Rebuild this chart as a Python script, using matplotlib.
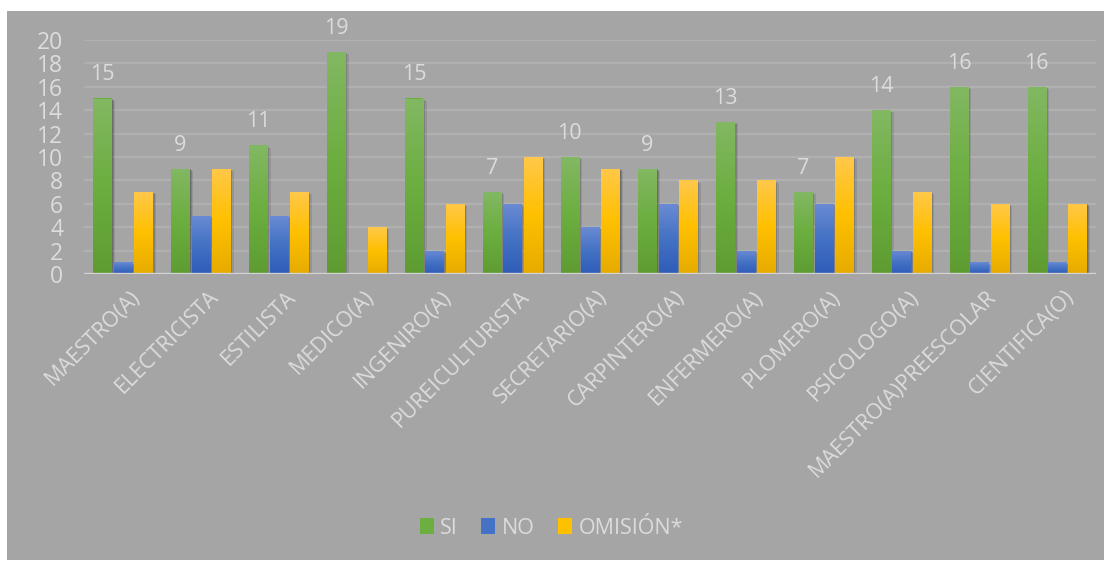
import numpy as np
import matplotlib
matplotlib.use("Agg")
import matplotlib.pyplot as plt
from matplotlib.patches import Rectangle
from matplotlib.colors import LinearSegmentedColormap
import matplotlib.patheffects as pe
import matplotlib.transforms as mtransforms

plt.rcParams['font.family'] = ['Open Sans', 'DejaVu Sans']

categories = ["MAESTRO(A)", "ELECTRICISTA", "ESTILISTA", "MEDICO(A)", "INGENIRO(A)",
              "PUREICULTURISTA", "SECRETARIO(A)", "CARPINTERO(A)", "ENFERMERO(A)",
              "PLOMERO(A)", "PSICOLOGO(A)", "MAESTRO(A)PREESCOLAR", "CIENTIFICA(O)"]
si = [15, 9, 11, 19, 15, 7, 10, 9, 13, 7, 14, 16, 16]
no = [1, 5, 5, 0, 2, 6, 4, 6, 2, 6, 2, 1, 1]
omision = [7, 9, 7, 4, 6, 10, 9, 8, 8, 10, 7, 6, 6]
series_names = ["SI", "NO", "OMISIÓN*"]
y_ticks = [0, 2, 4, 6, 8, 10, 12, 14, 16, 18, 20]

BG = "#a5a5a5"
TXT = "#dcdcdc"
GRID = "#b0b0b0"

# top, middle, bottom colours of each series' gradient fill
gradients = [
    ["#82b863", "#6cae3f", "#5e9c32"],
    ["#6b8bd4", "#4472c4", "#2f5cb8"],
    ["#ffc84a", "#ffc000", "#e6ab00"],
]

W, H = 1114, 562
fig = plt.figure(figsize=(W / 100, H / 100), dpi=100, facecolor="white")

# grey chart area
bg = fig.add_axes([7 / W, 2 / H, (1104 - 7) / W, (560 - 11) / H], zorder=0)
bg.set_facecolor(BG)
bg.set_xticks([])
bg.set_yticks([])
for s in bg.spines.values():
    s.set_visible(False)

ax = fig.add_axes([84 / W, 1 - 274 / H, 1012 / W, 234 / H], zorder=1)
ax.set_facecolor("none")
for s in ax.spines.values():
    s.set_visible(False)

x = np.arange(len(categories))
bw = 0.232
gap = 0.03
offsets = [-(bw + gap), 0, bw + gap]
shadow = [pe.SimplePatchShadow(offset=(2.6, -1.6), shadow_rgbFace="black", alpha=0.10),
          pe.SimplePatchShadow(offset=(1.6, -1.0), shadow_rgbFace="black", alpha=0.14),
          pe.SimplePatchShadow(offset=(0.8, -0.5), shadow_rgbFace="black", alpha=0.16),
          pe.Normal()]

all_bars = []
for vals, off, grad, name in zip([si, no, omision], offsets, gradients, series_names):
    bars = ax.bar(x + off, vals, width=bw, color=grad[1], label=name, zorder=3,
                  linewidth=0)
    cmap = LinearSegmentedColormap.from_list(name, grad[::-1])
    img = np.linspace(0, 1, 256).reshape(-1, 1)
    for p in bars:
        h = p.get_height()
        if h <= 0:
            continue
        p.set_path_effects(shadow)
        im = ax.imshow(img, extent=(p.get_x(), p.get_x() + p.get_width(), 0, h),
                       origin="lower", aspect="auto", cmap=cmap, zorder=4)
        im.set_clip_path(p)
    all_bars.append(bars)

# value labels on the SI series
for p, v in zip(all_bars[0], si):
    ax.annotate(str(v), (p.get_x() + p.get_width() / 2, v), xytext=(0, 13),
                textcoords="offset points", ha="center", va="baseline",
                fontsize=15.5, color=TXT, annotation_clip=False)

ax.set_xlim(-0.5, len(categories) - 0.5)
ax.set_ylim(0, 20)
ax.set_yticks(y_ticks)
ax.set_yticklabels([str(t) for t in y_ticks])
for t in y_ticks[1:]:
    ax.axhline(t, color=GRID, lw=1.6, zorder=1)
ax.axhline(0, color="#d4d4d4", lw=2.4, zorder=5)

ax.tick_params(axis="y", length=0, pad=15, labelsize=16.5, labelcolor=TXT)
ax.tick_params(axis="x", length=0, pad=9, labelsize=15.5, labelcolor=TXT)
ax.set_xticks(x)
ax.set_xticklabels(categories, rotation=45, ha="right", rotation_mode="anchor")
shift = mtransforms.ScaledTranslation(5 / 72, 0, fig.dpi_scale_trans)
for lab in ax.get_xticklabels():
    lab.set_transform(lab.get_transform() + shift)

handles = [Rectangle((0, 0), 1, 1, facecolor=g[1], edgecolor="none") for g in gradients]
leg = fig.legend(handles, series_names, loc="center", bbox_to_anchor=(0.495, 1 - 528 / H),
                 ncol=3, frameon=False, fontsize=15.5, labelcolor=TXT,
                 handlelength=0.65, handleheight=0.7, handletextpad=0.3,
                 columnspacing=1.1)
leg.set_zorder(2)

fig.savefig("out.png", dpi=100, facecolor="white")
